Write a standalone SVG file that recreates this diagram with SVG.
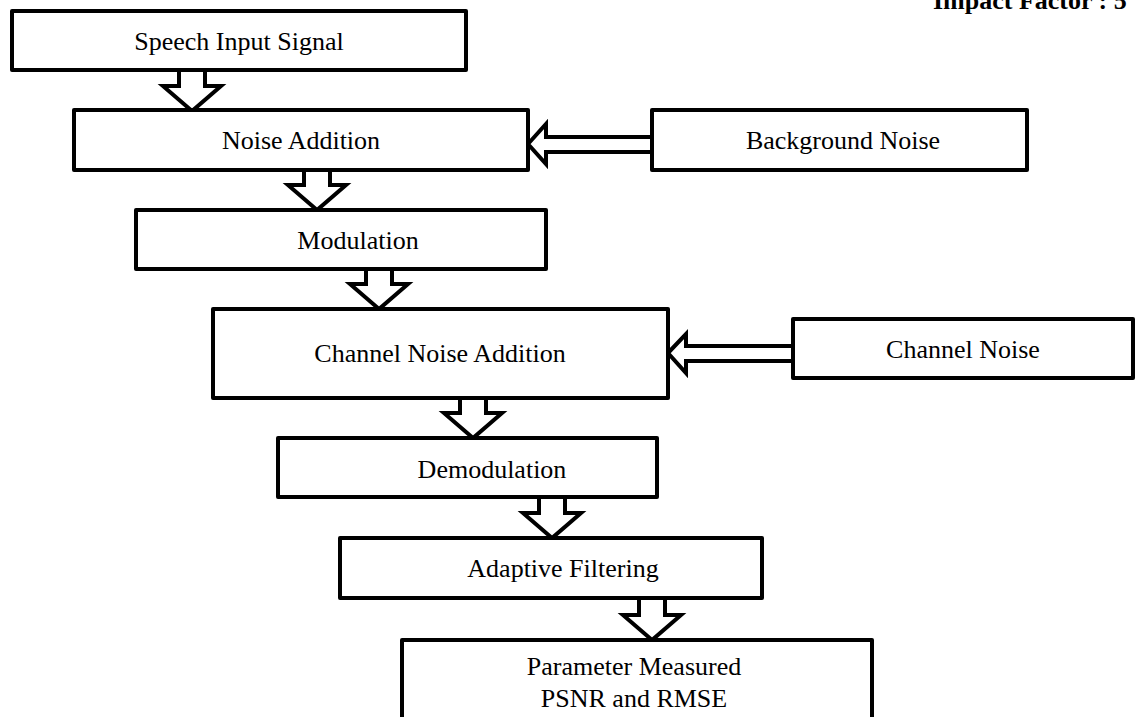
<svg xmlns="http://www.w3.org/2000/svg" width="1135" height="717" viewBox="0 0 1135 717">
<style>
.box{fill:#fff;stroke:#000;stroke-width:4;stroke-linejoin:round}
.arr{fill:#fff;stroke:#000;stroke-width:4;stroke-linejoin:miter}
.t{font-family:"Liberation Serif","Times New Roman",serif;font-size:26px;fill:#000;text-anchor:middle}
.hdr{font-family:"Liberation Serif","Times New Roman",serif;font-size:26px;font-weight:bold;fill:#000}
</style>
<defs>
<path id="down" d="M0,0 L-29,-25 L-13,-25 L-13,-42 L13,-42 L13,-25 L29,-25 Z"/>
</defs>
<rect width="1135" height="717" fill="#fff"/>
<text class="hdr" x="933" y="9">Impact Factor : 5</text>
<g id="connectors">
<use href="#down" class="arr" x="192" y="111"/>
<use href="#down" class="arr" x="317" y="210"/>
<use href="#down" class="arr" x="379" y="309"/>
<use href="#down" class="arr" x="473" y="438"/>
<use href="#down" class="arr" x="552" y="538"/>
<use href="#down" class="arr" x="652" y="640"/>
<path class="arr" d="M528,144 L546,124 L546,137 L652,137 L652,152 L546,152 L546,164 Z"/>
<path class="arr" d="M668,353 L686,334 L686,346 L793,346 L793,361 L686,361 L686,373 Z"/>
</g>
<g id="n1"><rect class="box" x="12" y="11" width="454" height="59"/><text class="t" x="239" y="50">Speech Input Signal</text></g>
<g id="n2"><rect class="box" x="74" y="110" width="454" height="60"/><text class="t" x="301" y="149">Noise Addition</text></g>
<g id="n3"><rect class="box" x="652" y="110" width="375" height="60"/><text class="t" x="843" y="149">Background Noise</text></g>
<g id="n4"><rect class="box" x="136" y="210" width="410" height="59"/><text class="t" x="358" y="249">Modulation</text></g>
<g id="n5"><rect class="box" x="213" y="309" width="455" height="89"/><text class="t" x="440" y="362">Channel Noise Addition</text></g>
<g id="n6"><rect class="box" x="793" y="319" width="340" height="59"/><text class="t" x="963" y="358">Channel Noise</text></g>
<g id="n7"><rect class="box" x="278" y="438" width="379" height="59"/><text class="t" x="492" y="478">Demodulation</text></g>
<g id="n8"><rect class="box" x="340" y="538" width="422" height="60"/><text class="t" x="563" y="577">Adaptive Filtering</text></g>
<g id="n9"><rect class="box" x="402" y="640" width="470" height="90"/><text class="t" x="634" y="675">Parameter Measured</text><text class="t" x="634" y="707">PSNR and RMSE</text></g>
</svg>
